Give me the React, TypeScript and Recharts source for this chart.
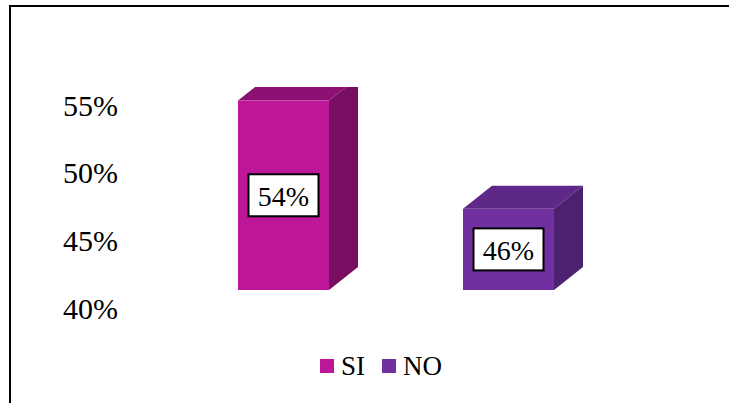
import { BarChart, Bar, XAxis, YAxis, Cell, LabelList, Legend } from 'recharts';

const categories = ['SI', 'NO'];
const values = [0.54, 0.46];
const yTicks = [0.4, 0.45, 0.5, 0.55];

const FONT = "'Liberation Serif', 'Times New Roman', 'DejaVu Serif', serif";
const DX = 29;
const DY = 23;

// front, top, side shades for each category
const palette = [
  { front: '#BD1699', top: '#8F1074', side: '#780D61' },
  { front: '#7030A0', top: '#5D2887', side: '#4C2170' },
];

const data = categories.map((name, i) => ({ name, value: values[i], idx: i }));

function Box3D(props: any) {
  const { x, y, width, height, payload } = props;
  const c = palette[payload.idx];
  const r = x + width;
  const b = y + height;
  return (
    <g>
      <polygon
        points={`${x},${y} ${x + DX},${y - DY} ${r + DX},${y - DY} ${r},${y}`}
        fill={c.top}
      />
      <polygon
        points={`${r},${y} ${r + DX},${y - DY} ${r + DX},${b - DY} ${r},${b}`}
        fill={c.side}
      />
      <rect x={x} y={y} width={width} height={height} fill={c.front} />
    </g>
  );
}

function ValueLabel(props: any) {
  const { x, y, width, height, value } = props;
  const cx = x + width / 2;
  const cy = y + height / 2;
  return (
    <g>
      <rect x={cx - 35} y={cy - 21} width={70} height={42} fill="#fff" stroke="#000" strokeWidth={2} />
      <text x={cx} y={cy + 1} textAnchor="middle" dominantBaseline="central" style={{ fontFamily: FONT, fontSize: 28 }} fill="#000">
        {Math.round(value * 100)}%
      </text>
    </g>
  );
}

function PctTick(props: any) {
  const { y, payload } = props;
  return (
    <text x={118} y={y + 18} textAnchor="end" dominantBaseline="central" style={{ fontFamily: FONT, fontSize: 30 }} fill="#000">
      {Math.round(payload.value * 100)}%
    </text>
  );
}

function LegendBox() {
  return (
    <div style={{ height: 30, display: 'flex', justifyContent: 'center', alignItems: 'center', paddingLeft: 141, fontFamily: FONT, fontSize: 27, color: '#000' }}>
      {categories.map((name, i) => (
        <div key={name} style={{ display: 'flex', alignItems: 'center', marginRight: i === 0 ? 17 : 0 }}>
          <span style={{ width: 14, height: 14, background: palette[i].front, display: 'inline-block', marginRight: 7 }} />
          <span>{name}</span>
        </div>
      ))}
    </div>
  );
}

export default function App() {
  return (
    <div style={{ position: 'absolute', left: 0, top: 0, width: 729, height: 403, overflow: 'hidden', background: '#fff' }}>
      <div style={{ position: 'absolute', left: 9, top: 5, width: 740, height: 420, borderTop: '2px solid #000', borderLeft: '2px solid #000' }} />
      <BarChart
        width={729}
        height={403}
        data={data}
        margin={{ top: 87, right: 108, bottom: 22, left: 0 }}
        barSize={91}
      >
        <XAxis dataKey="name" height={61} tick={false} axisLine={false} tickLine={false} />
        <YAxis
          width={171}
          domain={[0.4, 0.55]}
          ticks={yTicks}
          allowDataOverflow
          axisLine={false}
          tickLine={false}
          tick={<PctTick />}
        />
        <Legend verticalAlign="bottom" content={<LegendBox />} />
        <Bar dataKey="value" shape={<Box3D />} isAnimationActive={false}>
          {data.map((d, i) => (
            <Cell key={d.name} fill={palette[i].front} />
          ))}
          <LabelList dataKey="value" content={<ValueLabel />} />
        </Bar>
      </BarChart>
    </div>
  );
}
